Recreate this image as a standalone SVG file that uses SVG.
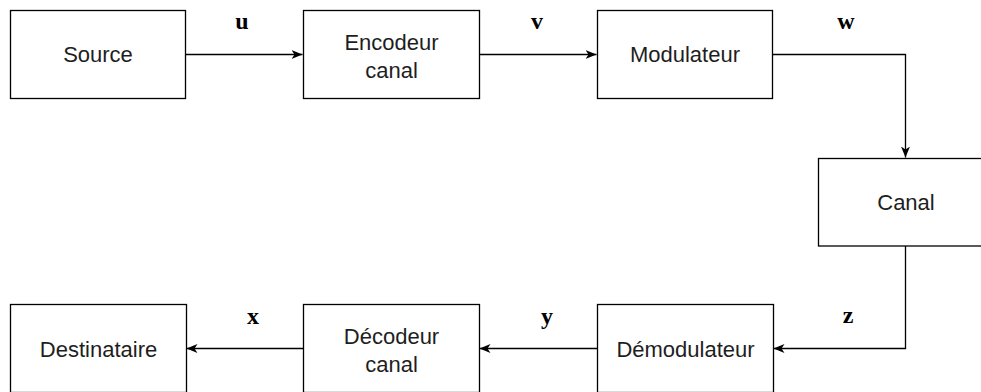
<svg xmlns="http://www.w3.org/2000/svg" width="981" height="392" viewBox="0 0 981 392">
<defs>
<style>
.box{fill:#fff;stroke:#000;stroke-width:1.3}
.t{font-family:"Liberation Sans",Arial,sans-serif;font-size:22px;fill:#1e1e1e;text-anchor:middle}
.lbl{font-family:"Liberation Serif","Times New Roman",serif;font-weight:bold;font-size:24px;fill:#000;text-anchor:middle}
.c{fill:none;stroke:#000;stroke-width:1.3}
</style>
<marker id="ar" markerWidth="13" markerHeight="11" refX="11" refY="5.5" orient="auto" markerUnits="userSpaceOnUse">
<path d="M0,1 L11,5.5 L0,10 L3,5.5 Z" fill="#000"/>
</marker>
</defs>
<rect width="981" height="392" fill="#fff"/>
<g id="connectors">
<path class="c" d="M186,54.5 H302.5" marker-end="url(#ar)"/>
<path class="c" d="M479,54.5 H596.5" marker-end="url(#ar)"/>
<path class="c" d="M773,54.5 H905.5 V157.5" marker-end="url(#ar)"/>
<path class="c" d="M905.5,246 V348.5 H773.5" marker-end="url(#ar)"/>
<path class="c" d="M597,348.5 H479.5" marker-end="url(#ar)"/>
<path class="c" d="M303,348.5 H186.5" marker-end="url(#ar)"/>
<text class="lbl" x="242" y="29">u</text>
<text class="lbl" x="537" y="29">v</text>
<text class="lbl" x="846" y="29">w</text>
<text class="lbl" x="848" y="323">z</text>
<text class="lbl" x="547" y="324">y</text>
<text class="lbl" x="253" y="324">x</text>
</g>
<g id="source">
<rect class="box" x="10.5" y="10.5" width="175" height="88"/>
<text class="t" x="98" y="62">Source</text>
</g>
<g id="encodeur">
<rect class="box" x="303.5" y="10.5" width="176" height="88"/>
<text class="t" x="391.5" y="50">Encodeur</text>
<text class="t" x="391.5" y="78">canal</text>
</g>
<g id="modulateur">
<rect class="box" x="597.5" y="10.5" width="175" height="88"/>
<text class="t" x="685" y="62">Modulateur</text>
</g>
<g id="canal">
<rect class="box" x="818.5" y="158.5" width="175" height="87.5"/>
<text class="t" x="906" y="210">Canal</text>
</g>
<g id="demodulateur">
<rect class="box" x="597.5" y="304.5" width="176" height="88"/>
<text class="t" x="685.5" y="356.5">Démodulateur</text>
</g>
<g id="decodeur">
<rect class="box" x="303.5" y="304.5" width="176" height="88"/>
<text class="t" x="391.5" y="344">Décodeur</text>
<text class="t" x="391.5" y="372">canal</text>
</g>
<g id="destinataire">
<rect class="box" x="10.5" y="304.5" width="176" height="88"/>
<text class="t" x="98.5" y="356.5">Destinataire</text>
</g>
</svg>
